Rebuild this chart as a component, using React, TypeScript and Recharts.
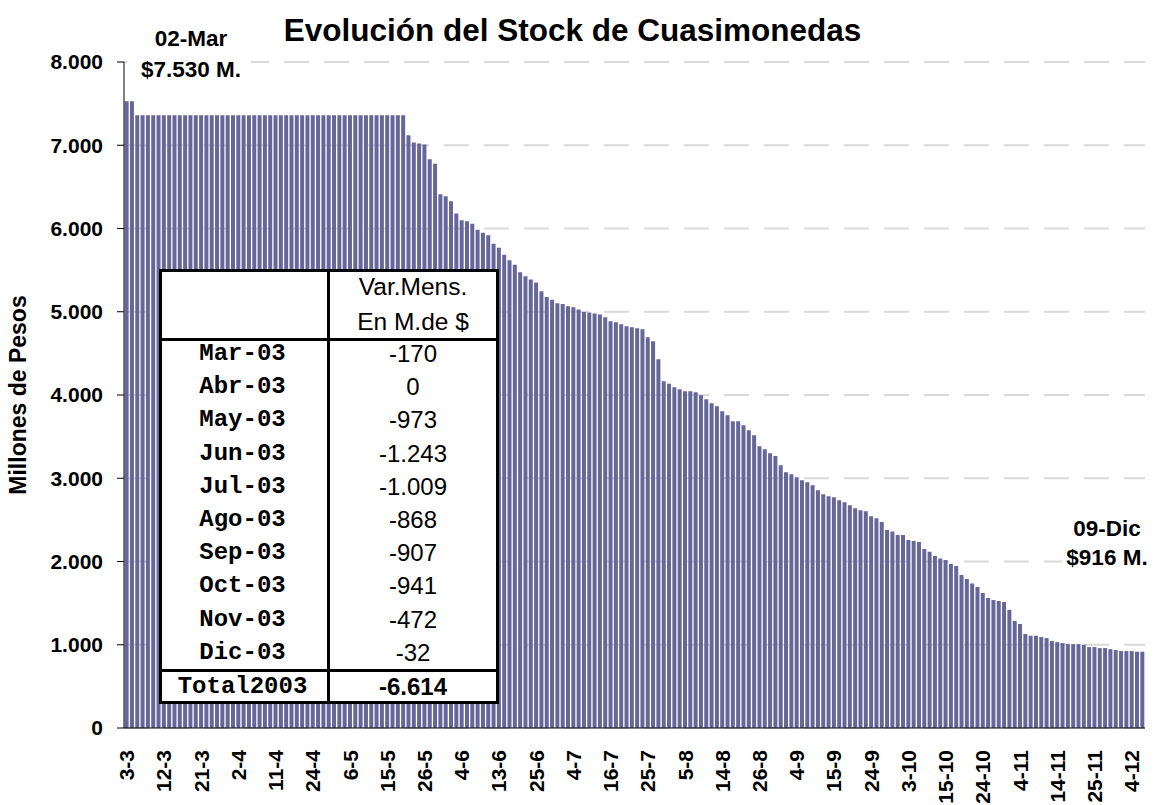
import React from 'react';
import { BarChart, Bar, XAxis, YAxis, CartesianGrid } from 'recharts';

// business days per month (2003) and stock in millions of pesos
const marDays = [3, 4, 5, 6, 7, 10, 11, 12, 13, 14, 17, 18, 19, 20, 21, 25, 26, 27, 28, 31];
const marStock = [7530, 7530, 7360, 7360, 7360, 7360, 7360, 7360, 7360, 7360, 7360, 7360, 7360, 7360, 7360, 7360, 7360, 7360, 7360, 7360];

const aprDays = [1, 2, 3, 4, 7, 8, 9, 10, 11, 14, 15, 16, 21, 22, 23, 24, 25, 28, 29, 30];
const aprStock = [7360, 7360, 7360, 7360, 7360, 7360, 7360, 7360, 7360, 7360, 7360, 7360, 7360, 7360, 7360, 7360, 7360, 7360, 7360, 7360];

const mayDays = [2, 5, 6, 7, 8, 9, 12, 13, 14, 15, 16, 19, 20, 21, 22, 23, 26, 27, 28, 29, 30];
const mayStock = [7360, 7360, 7360, 7360, 7360, 7360, 7360, 7360, 7360, 7360, 7360, 7360, 7360, 7119, 7033, 7021, 7009, 6831, 6779, 6410, 6387];

const junDays = [2, 3, 4, 5, 6, 9, 10, 11, 12, 13, 17, 18, 19, 20, 23, 24, 25, 26, 27, 30];
const junStock = [6327, 6179, 6099, 6087, 6058, 5986, 5950, 5918, 5818, 5770, 5686, 5618, 5566, 5474, 5426, 5386, 5350, 5246, 5178, 5144];

const julDays = [1, 2, 3, 4, 7, 8, 10, 11, 14, 15, 16, 17, 18, 21, 22, 23, 24, 25, 28, 29, 30, 31];
const julStock = [5102, 5094, 5066, 5054, 5026, 4998, 4992, 4980, 4966, 4934, 4886, 4874, 4850, 4826, 4814, 4802, 4790, 4694, 4646, 4430, 4166, 4135];

const agoDays = [1, 4, 5, 6, 7, 8, 11, 12, 13, 14, 15, 19, 20, 21, 22, 25, 26, 27, 28, 29];
const agoStock = [4094, 4070, 4046, 4046, 4032, 3998, 3950, 3902, 3866, 3806, 3758, 3686, 3686, 3638, 3578, 3518, 3385, 3349, 3301, 3267];

const sepDays = [1, 2, 3, 4, 5, 8, 9, 10, 11, 12, 15, 16, 17, 18, 19, 22, 23, 24, 25, 26, 29, 30];
const sepStock = [3157, 3073, 3049, 3013, 2977, 2953, 2917, 2857, 2809, 2785, 2773, 2737, 2713, 2677, 2641, 2617, 2605, 2545, 2521, 2473, 2377, 2360];

const octDays = [1, 2, 3, 6, 7, 8, 9, 10, 14, 15, 16, 17, 20, 21, 22, 23, 24, 27, 28, 29, 30, 31];
const octStock = [2317, 2317, 2257, 2245, 2233, 2149, 2117, 2065, 2037, 2017, 1969, 1945, 1837, 1789, 1737, 1693, 1621, 1561, 1537, 1525, 1513, 1419];

const novDays = [3, 4, 5, 6, 7, 11, 12, 13, 14, 17, 18, 19, 20, 21, 24, 25, 26, 27, 28];
const novStock = [1285, 1249, 1129, 1108, 1108, 1092, 1080, 1044, 1032, 1020, 1008, 1008, 1008, 1000, 972, 972, 960, 960, 947];

const dicDays = [1, 2, 3, 4, 5, 9];
const dicStock = [936, 924, 924, 924, 916, 916];

const yTicks = [0, 1000, 2000, 3000, 4000, 5000, 6000, 7000, 8000];

// monthly variation table
const tableMonths = ['Mar-03', 'Abr-03', 'May-03', 'Jun-03', 'Jul-03', 'Ago-03', 'Sep-03', 'Oct-03', 'Nov-03', 'Dic-03'];
const tableVar = [-170, 0, -973, -1243, -1009, -868, -907, -941, -472, -32];
const tableTotal = -6614;

const months = [
  { m: 3, days: marDays, stock: marStock },
  { m: 4, days: aprDays, stock: aprStock },
  { m: 5, days: mayDays, stock: mayStock },
  { m: 6, days: junDays, stock: junStock },
  { m: 7, days: julDays, stock: julStock },
  { m: 8, days: agoDays, stock: agoStock },
  { m: 9, days: sepDays, stock: sepStock },
  { m: 10, days: octDays, stock: octStock },
  { m: 11, days: novDays, stock: novStock },
  { m: 12, days: dicDays, stock: dicStock },
];

const data = months
  .flatMap(({ m, days, stock }) => days.map((d, i) => ({ fecha: `${d}-${m}`, stock: stock[i] })))
  .map((r, i) => ({ ...r, idx: i }));

const edgeTicks = Array.from({ length: data.length + 1 }, (_, i) => i);

const ARIAL = '"Liberation Sans", Arial, sans-serif';
const COURIER = '"Liberation Mono", "Courier New", monospace';

const fmt = (v: number) => {
  const s = String(Math.abs(v)).replace(/\B(?=(\d{3})+(?!\d))/g, '.');
  return (v < 0 ? '-' : '') + s;
};

const XTick = (props: any) => {
  const { x, y, payload } = props;
  return (
    <text
      transform={`translate(${x},${y}) rotate(-90)`}
      textAnchor="end"
      dy="0.36em"
      fontFamily={ARIAL}
      fontWeight="bold"
      fontSize={21}
      fill="#000"
    >
      {payload.value}
    </text>
  );
};

const NoTick = () => <g />;

const abs = (extra: React.CSSProperties): React.CSSProperties => ({ position: 'absolute', ...extra });

export default function App() {
  const boldTxt: React.CSSProperties = { fontFamily: ARIAL, fontWeight: 'bold', color: '#000', whiteSpace: 'nowrap' };
  const rowY = (i: number) => 354 + i * 33.2;

  return (
    <div style={{ position: 'absolute', left: 0, top: 0, width: 1156, height: 805, background: '#fff', overflow: 'hidden' }}>
      <BarChart width={1156} height={805} data={data} margin={{ top: 62, right: 11, bottom: 0, left: 0 }} barCategoryGap="12%">
        <CartesianGrid vertical={false} stroke="#d9d9d9" strokeWidth={2} strokeDasharray="25 15" />
        <XAxis
          xAxisId="edge"
          type="number"
          dataKey="idx"
          domain={[0, data.length]}
          allowDataOverflow
          ticks={edgeTicks}
          interval={0}
          tick={NoTick}
          tickSize={7}
          tickLine={{ stroke: '#000' }}
          axisLine={false}
          height={0}
        />
        <XAxis
          dataKey="fecha"
          interval={6}
          tick={XTick}
          tickLine={false}
          tickSize={0}
          tickMargin={22}
          axisLine={{ stroke: '#000' }}
          height={77}
        />
        <YAxis
          width={124}
          domain={[0, 8000]}
          ticks={yTicks}
          tickFormatter={fmt}
          tickSize={7}
          tickMargin={14}
          tickLine={{ stroke: '#000' }}
          axisLine={{ stroke: '#000' }}
          tick={{ fill: '#000', fontSize: 21, fontWeight: 'bold', fontFamily: ARIAL }}
        />
        <Bar dataKey="stock" fill="#666699" isAnimationActive={false} />
      </BarChart>

      {/* title and axis title */}
      <div style={abs({ left: 0, width: 1145, top: 15, textAlign: 'center', fontSize: 31.5, lineHeight: '31px', ...boldTxt })}>
        Evolución del Stock de Cuasimonedas
      </div>
      <div style={abs({ left: 18, top: 395, transform: 'translate(-50%, -50%) rotate(-90deg)', fontSize: 23, lineHeight: '23px', ...boldTxt })}>
        Millones de Pesos
      </div>

      {/* start / end annotations */}
      <div style={abs({ left: 127, top: 52, width: 124, height: 30, background: '#fff' })} />
      <div style={abs({ left: 91, width: 200, top: 28, textAlign: 'center', fontSize: 22.5, lineHeight: '22px', ...boldTxt })}>02-Mar</div>
      <div style={abs({ left: 91, width: 200, top: 59, textAlign: 'center', fontSize: 22.5, lineHeight: '22px', ...boldTxt })}>$7.530 M.</div>
      <div style={abs({ left: 1062, top: 546, width: 94, height: 26, background: '#fff' })} />
      <div style={abs({ left: 1047, width: 120, top: 518, textAlign: 'center', fontSize: 22.5, lineHeight: '22px', ...boldTxt })}>09-Dic</div>
      <div style={abs({ left: 1047, width: 120, top: 547, textAlign: 'center', fontSize: 22.5, lineHeight: '22px', ...boldTxt })}>$916 M.</div>

      {/* monthly variation table */}
      <div style={abs({ left: 159, top: 269, width: 340, height: 435, border: '3px solid #000', boxSizing: 'border-box', background: '#fff' })} />
      <div style={abs({ left: 327, top: 269, width: 3, height: 435, background: '#000' })} />
      <div style={abs({ left: 159, top: 338, width: 340, height: 3, background: '#000' })} />
      <div style={abs({ left: 159, top: 669, width: 340, height: 3, background: '#000' })} />
      <div style={abs({ left: 330, width: 166, top: 275, textAlign: 'center', fontFamily: ARIAL, fontSize: 24.5, lineHeight: '24px', color: '#000' })}>Var.Mens.</div>
      <div style={abs({ left: 330, width: 166, top: 310, textAlign: 'center', fontFamily: ARIAL, fontSize: 24.5, lineHeight: '24px', color: '#000' })}>En M.de $</div>
      {tableMonths.map((m, i) => (
        <React.Fragment key={m}>
          <div style={abs({ left: 160, width: 165, top: rowY(i) - 12, textAlign: 'center', fontFamily: COURIER, fontWeight: 'bold', fontSize: 24, lineHeight: '24px', color: '#000' })}>{m}</div>
          <div style={abs({ left: 330, width: 166, top: rowY(i) - 12, textAlign: 'center', fontFamily: ARIAL, fontSize: 24, lineHeight: '24px', color: '#000' })}>{fmt(tableVar[i])}</div>
        </React.Fragment>
      ))}
      <div style={abs({ left: 160, width: 165, top: 674.5, textAlign: 'center', fontFamily: COURIER, fontWeight: 'bold', fontSize: 24, lineHeight: '24px', color: '#000' })}>Total2003</div>
      <div style={abs({ left: 330, width: 166, top: 674.5, textAlign: 'center', ...boldTxt, fontSize: 24, lineHeight: '24px' })}>{fmt(tableTotal)}</div>
    </div>
  );
}
